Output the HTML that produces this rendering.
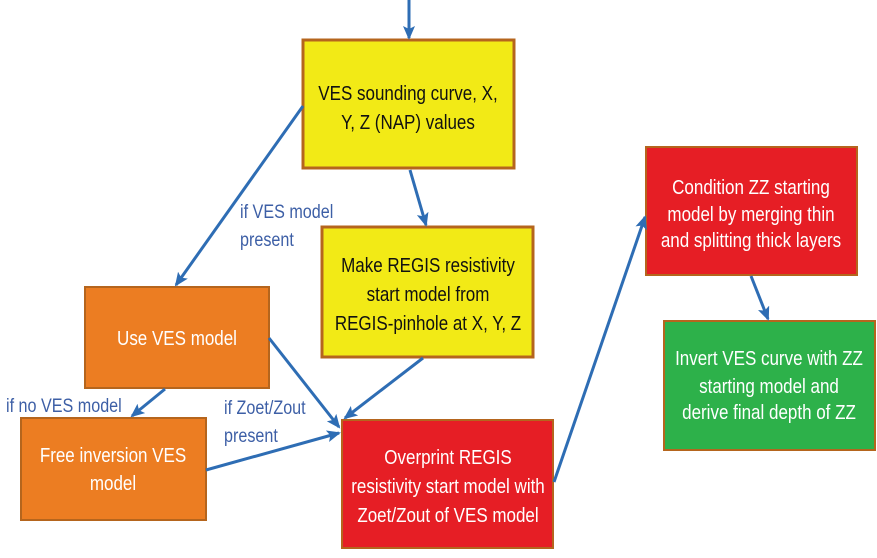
<!DOCTYPE html>
<html><head><meta charset="utf-8"><style>
html,body{margin:0;padding:0;background:#fff;}
svg{display:block;}
text{font-family:"Liberation Sans",sans-serif;}
.b{font-size:20px;fill:#111;}
.w{font-size:20px;fill:#fff;}
.l{font-size:19px;fill:#3d5fa6;}
</style></head><body>
<svg width="877" height="558" viewBox="0 0 877 558" xmlns="http://www.w3.org/2000/svg">
<defs>
<marker id="a" markerWidth="8" markerHeight="8" refX="6" refY="4" orient="auto" markerUnits="userSpaceOnUse">
<path d="M0,0 L8,4 L0,8 z" fill="#2e6db4"/>
</marker>
<marker id="a2" markerWidth="14" markerHeight="12" refX="12" refY="6" orient="auto" markerUnits="userSpaceOnUse">
<path d="M0,0 L14,6 L0,12 L3,6 z" fill="#2e6db4"/>
</marker>
</defs>
<!-- boxes -->
<rect x="303" y="40" width="211" height="128" fill="#f2ea16" stroke="#b5651d" stroke-width="3"/>
<rect x="322" y="227" width="211" height="130" fill="#f2ea16" stroke="#b5651d" stroke-width="3"/>
<rect x="85" y="287" width="184" height="101" fill="#ec7d22" stroke="#b5651d" stroke-width="2"/>
<rect x="21" y="418" width="185" height="102" fill="#ec7d22" stroke="#b5651d" stroke-width="2"/>
<rect x="342" y="420" width="211" height="128" fill="#e61e25" stroke="#b5651d" stroke-width="2"/>
<rect x="646" y="147" width="211" height="128" fill="#e61e25" stroke="#b5651d" stroke-width="2"/>
<rect x="664" y="321" width="211" height="129" fill="#2db14a" stroke="#b5651d" stroke-width="2"/>
<!-- arrows -->
<g stroke="#2e6db4" stroke-width="3" fill="none" marker-end="url(#a2)">
<line x1="409" y1="0" x2="409" y2="38"/>
<line x1="303" y1="106" x2="176" y2="285"/>
<line x1="410" y1="170" x2="426" y2="225"/>
<line x1="269" y1="338" x2="339" y2="427"/>
<line x1="423" y1="358" x2="345" y2="418"/>
<line x1="165" y1="389" x2="132" y2="416"/>
<line x1="206" y1="470" x2="339" y2="433"/>
<line x1="554" y1="482" x2="645" y2="217"/>
<line x1="751" y1="276" x2="768" y2="319"/>
</g>
<!-- labels -->
<text class="l" transform="translate(240,218) scale(0.85,1)">if VES model</text>
<text class="l" transform="translate(240,246) scale(0.85,1)">present</text>
<text class="l" transform="translate(6,412) scale(0.85,1)">if no VES model</text>
<text class="l" transform="translate(224,414) scale(0.85,1)">if Zoet/Zout</text>
<text class="l" transform="translate(224,442) scale(0.85,1)">present</text>
<!-- box text -->
<g text-anchor="middle">
<text class="b" transform="translate(408,100) scale(0.85,1)">VES sounding curve, X,</text>
<text class="b" transform="translate(408,129) scale(0.85,1)">Y, Z (NAP) values</text>
<text class="b" transform="translate(428,272) scale(0.85,1)">Make REGIS resistivity</text>
<text class="b" transform="translate(428,301) scale(0.85,1)">start model from</text>
<text class="b" transform="translate(428,330) scale(0.85,1)">REGIS-pinhole at X, Y, Z</text>
<text class="w" transform="translate(177,345) scale(0.85,1)">Use VES model</text>
<text class="w" transform="translate(113,462) scale(0.85,1)">Free inversion VES</text>
<text class="w" transform="translate(113,490) scale(0.85,1)">model</text>
<text class="w" transform="translate(448,464) scale(0.85,1)">Overprint REGIS</text>
<text class="w" transform="translate(448,493) scale(0.85,1)">resistivity start model with</text>
<text class="w" transform="translate(448,522) scale(0.85,1)">Zoet/Zout of VES model</text>
<text class="w" transform="translate(751,194) scale(0.85,1)">Condition ZZ starting</text>
<text class="w" transform="translate(751,221) scale(0.85,1)">model by merging thin</text>
<text class="w" transform="translate(751,247) scale(0.85,1)">and splitting thick layers</text>
<text class="w" transform="translate(769,365) scale(0.85,1)">Invert VES curve with ZZ</text>
<text class="w" transform="translate(769,393) scale(0.85,1)">starting model and</text>
<text class="w" transform="translate(769,419) scale(0.85,1)">derive final depth of ZZ</text>
</g>
</svg>
</body></html>
